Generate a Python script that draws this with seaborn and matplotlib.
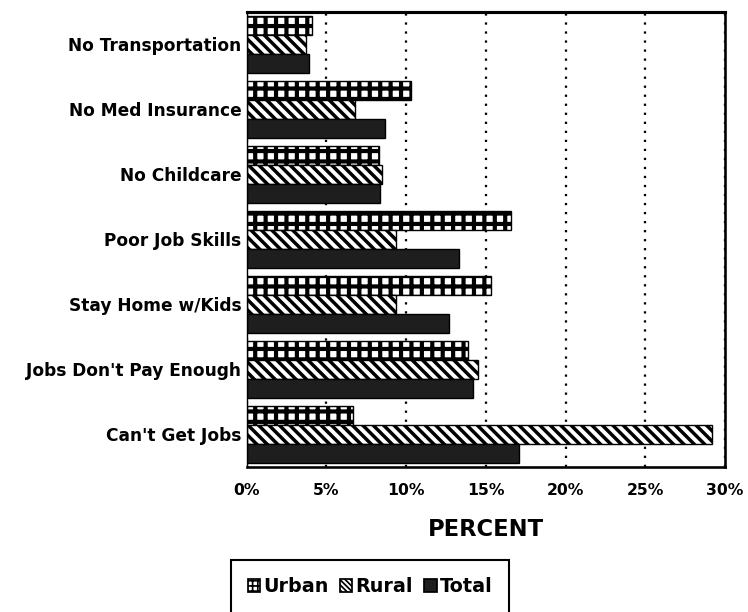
import matplotlib
matplotlib.use("Agg")
import matplotlib.pyplot as plt
from matplotlib.patches import Patch
import seaborn as sns
import pandas as pd

# ---- data ----
categories = ["No Transportation", "No Med Insurance", "No Childcare",
              "Poor Job Skills", "Stay Home w/Kids", "Jobs Don't Pay Enough",
              "Can't Get Jobs"]
urban = [4.1, 10.3, 8.3, 16.6, 15.3, 13.9, 6.7]
rural = [3.7, 6.8, 8.5, 9.4, 9.4, 14.5, 29.2]
total = [3.9, 8.7, 8.4, 13.3, 12.7, 14.2, 17.1]
series_names = ["Urban", "Rural", "Total"]
x_ticks = [0, 5, 10, 15, 20, 25, 30]
x_tick_labels = ["0%", "5%", "10%", "15%", "20%", "25%", "30%"]

sns.set_style("white")
plt.rcParams["font.family"] = ["DejaVu Sans"]
plt.rcParams["font.weight"] = "bold"
for key in ["text.color", "axes.labelcolor", "xtick.color", "ytick.color"]:
    plt.rcParams[key] = "black"

df = pd.DataFrame({
    "Reason": categories * 3,
    "Area": [s for s in series_names for _ in categories],
    "Percent": urban + rural + total,
})

DPI = 125
fig = plt.figure(figsize=(748 / DPI, 612 / DPI), dpi=DPI)
fig.patch.set_facecolor("white")
ax = fig.add_axes([246.5 / 748, 145 / 612, (725 - 246.5) / 748, (467 - 11.7) / 612])

sns.barplot(data=df, x="Percent", y="Reason", hue="Area", order=categories,
            hue_order=series_names, orient="h", width=0.87, ax=ax,
            legend=False, saturation=1, errorbar=None,
            palette=["white", "white", "#1e1e1e"])

BS = chr(92)
styles = {
    "Urban": dict(facecolor="white", hatch="++", hlw=2.4),
    "Rural": dict(facecolor="white", hatch=BS * 4, hlw=2.0),
    "Total": dict(facecolor="#1e1e1e", hatch=None, hlw=1.0),
}

def style_patch(p, st):
    p.set_facecolor(st["facecolor"])
    p.set_edgecolor("black")
    p.set_linewidth(0.8)
    if st["hatch"]:
        p.set_hatch(st["hatch"])
        try:
            p.set_hatch_linewidth(st["hlw"])
        except Exception:
            pass

for container, name in zip(ax.containers, series_names):
    for p in container:
        style_patch(p, styles[name])

ax.set_xlim(0, 30)
ax.set_ylim(6.5, -0.5)
ax.set_xticks(x_ticks)
ax.set_xticklabels(x_tick_labels)
ax.xaxis.grid(True, color="black", linestyle=(0, (1, 3)), linewidth=1.3)
ax.yaxis.grid(False)
ax.set_axisbelow(True)
ax.tick_params(axis="x", length=0, pad=9, labelsize=9)
ax.tick_params(axis="y", length=0, pad=3, labelsize=9.8)
ax.set_xlabel("PERCENT", fontsize=13, fontweight="bold", labelpad=12)
ax.set_ylabel("")

for side, lw in [("top", 1.8), ("right", 1.5), ("bottom", 1.5), ("left", 0.8)]:
    ax.spines[side].set_visible(True)
    ax.spines[side].set_color("black")
    ax.spines[side].set_linewidth(lw)

handles = []
for name in series_names:
    st = styles[name]
    h = Patch(facecolor=st["facecolor"], edgecolor="black", linewidth=1.0,
              hatch=(st["hatch"] * 2 if st["hatch"] else None))
    if st["hatch"]:
        try:
            h.set_hatch_linewidth(1.4)
        except Exception:
            pass
    handles.append(h)

leg = fig.legend(handles, series_names, loc="center",
                 bbox_to_anchor=(370 / 748, 1 - 587 / 612), ncol=3,
                 frameon=True, fancybox=False, edgecolor="black",
                 framealpha=1, fontsize=11, handlelength=0.65,
                 handleheight=0.65, handletextpad=0.15, columnspacing=0.6,
                 borderpad=0.9)
leg.get_frame().set_linewidth(1.2)

fig.savefig("out.png", dpi=DPI)
